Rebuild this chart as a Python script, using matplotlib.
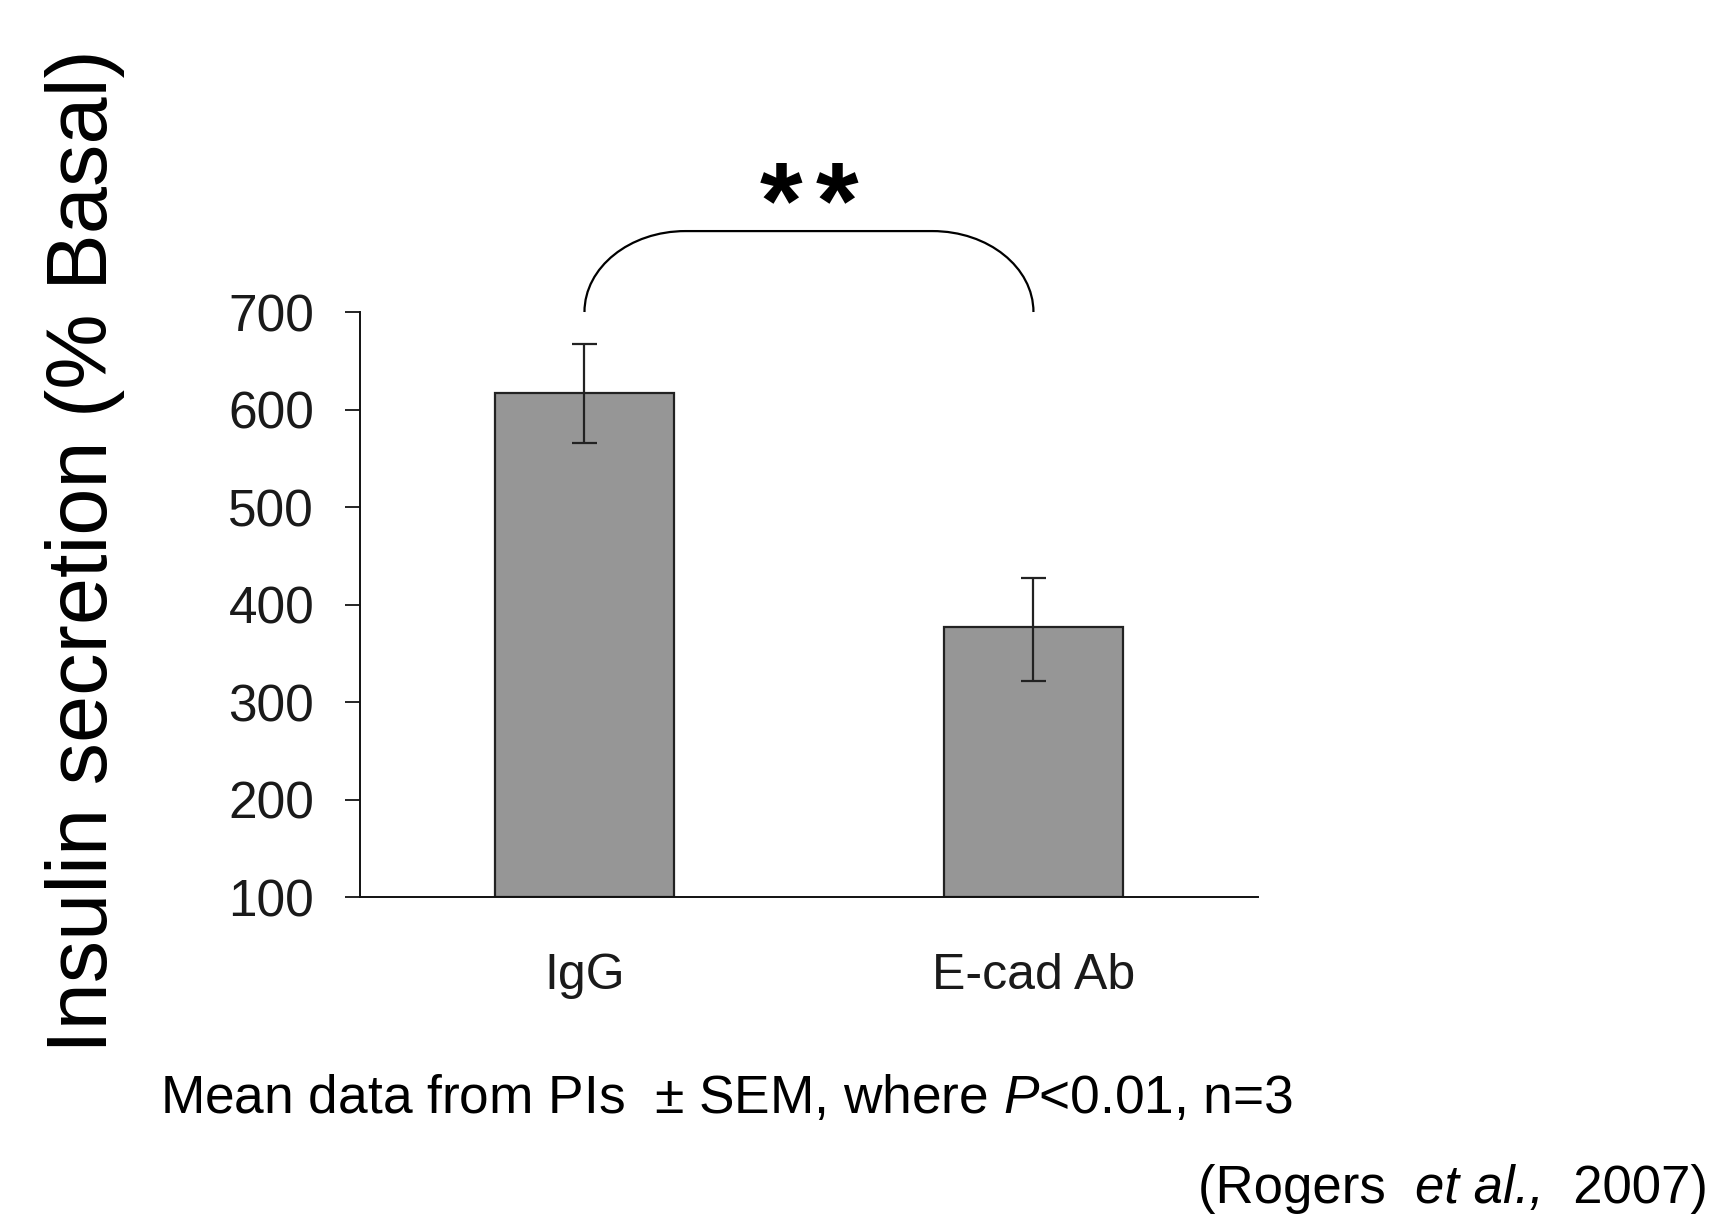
import numpy as np
import matplotlib
matplotlib.use("Agg")
import matplotlib.pyplot as plt
from matplotlib.path import Path
import matplotlib.patches as mpatches

plt.rcParams["font.family"] = ["Liberation Sans", "DejaVu Sans"]
plt.rcParams["mathtext.fontset"] = "custom"
plt.rcParams["mathtext.rm"] = "Liberation Sans"
plt.rcParams["mathtext.it"] = "Liberation Sans:italic"

# data
groups = ["IgG", "E-cad Ab"]
means = [617, 377]
err_low = [51, 55]
err_high = [50, 50]
y_ticks = [100, 200, 300, 400, 500, 600, 700]

fig = plt.figure(figsize=(17.11, 12.15), dpi=100)
ax = fig.add_axes([0.2104, 0.2617, 0.5248, 0.4815])

x = np.arange(len(groups))
ax.bar(x, np.array(means) - 100, bottom=100, width=0.4, color="#969696",
       edgecolor="#222222", linewidth=1.6, zorder=2)
ax.errorbar(x, means, yerr=[err_low, err_high], fmt="none", ecolor="#222222",
            elinewidth=1.6, capsize=9, capthick=1.6, zorder=3)

ax.set_xlim(-0.5, 1.5)
ax.set_ylim(100, 700)
ax.set_yticks(y_ticks)
ax.set_yticklabels([str(v) for v in y_ticks], fontsize=37, color="#1a1a1a")
ax.set_xticks(x)
ax.set_xticklabels(groups, fontsize=36, color="#1a1a1a")
ax.tick_params(axis="y", direction="out", length=11, width=1.2, pad=22)
ax.tick_params(axis="x", length=0, pad=40)
for s in ["top", "right"]:
    ax.spines[s].set_visible(False)
for s in ["left", "bottom"]:
    ax.spines[s].set_linewidth(1.4)
    ax.spines[s].set_color("#111111")

# significance bracket between the two bars
y0, y1, r = 700, 783, 0.225
k = 0.5523
verts = [(x[0], y0), (x[0], y0 + k * (y1 - y0)), (x[0] + r - k * r, y1), (x[0] + r, y1),
         (x[1] - r, y1),
         (x[1] - r + k * r, y1), (x[1], y0 + k * (y1 - y0)), (x[1], y0)]
codes = [Path.MOVETO, Path.CURVE4, Path.CURVE4, Path.CURVE4,
         Path.LINETO,
         Path.CURVE4, Path.CURVE4, Path.CURVE4]
bracket = mpatches.PathPatch(Path(verts, codes), fill=False, edgecolor="black",
                             linewidth=1.6, clip_on=False)
ax.add_patch(bracket)
for dx in (-20, 20):
    ax.annotate("*", xy=(x.mean(), 777), xytext=(dx, 0), textcoords="offset points",
                ha="center", va="baseline", fontsize=79, fontweight="bold",
                annotation_clip=False)

fig.text(85 / 1711, 1 - 551 / 1215, "Insulin secretion (% Basal)", rotation=90,
         ha="center", va="center", fontsize=61)
fig.text(160 / 1711, 1 - 1113 / 1215,
         "Mean data from PIs  \u00b1 SEM, where $P$<0.01, n=3",
         ha="left", va="baseline", fontsize=38.3)

# citation, built right to left so the italic part keeps normal spacing
t_year = fig.text(1708 / 1711, 1 - 1203 / 1215, "  2007)",
                  ha="right", va="baseline", fontsize=38)
t_etal = ax.annotate("et al.,", xy=(0, 0), xycoords=t_year, ha="right", va="bottom",
                     fontsize=38, fontstyle="italic", annotation_clip=False)
ax.annotate("(Rogers  ", xy=(0, 0), xycoords=t_etal, ha="right", va="bottom",
            fontsize=38, annotation_clip=False)

fig.savefig("out.png", dpi=100)
